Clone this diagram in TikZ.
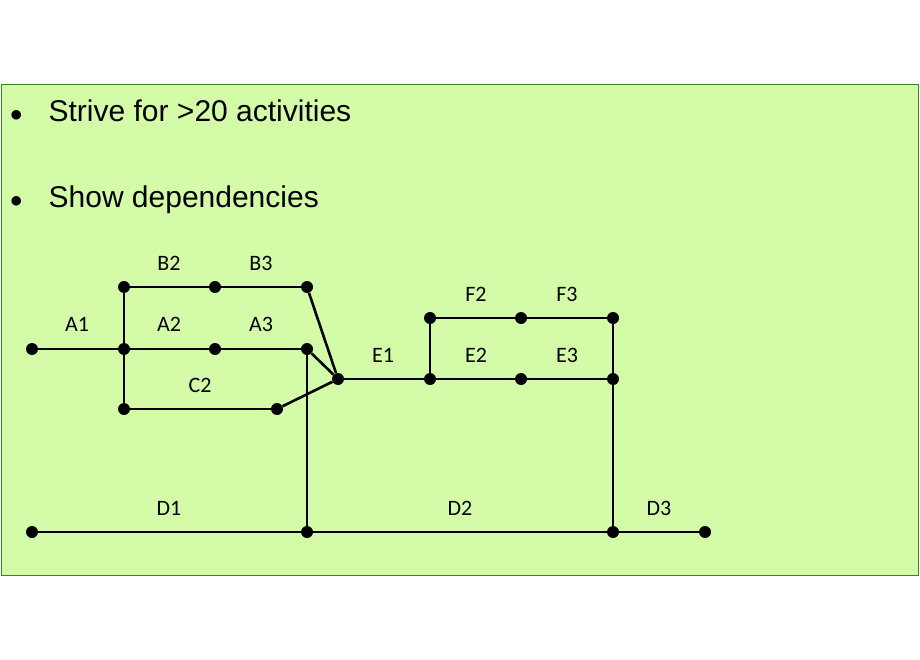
\documentclass[tikz,border=0pt]{standalone}
\usepackage{fontspec}
\setmainfont{Liberation Sans}
\newfontfamily\lblfont{Carlito}
\begin{document}
\begin{tikzpicture}[x=1pt,y=-1pt,
  dot/.style={circle,fill=black,inner sep=0pt,minimum size=12pt},
  lbl/.style={font=\lblfont\fontsize{22}{24}\selectfont},
  ln/.style={line width=2.6pt},
  bul/.style={font=\fontsize{30}{34}\selectfont,anchor=west,inner sep=0pt}]
\useasboundingbox (0,0) rectangle (920,660);
\draw[fill={rgb,255:red,212;green,252;blue,168},draw={rgb,255:red,60;green,130;blue,40},line width=1pt] (1,85) rectangle (918,575);
\node[bul] (t1) at (10,111) {$\bullet$\hspace{26pt}Strive for >20 activities};
\node[bul] (t2) at (10,200) {$\bullet$\hspace{26pt}Show dependencies};
\foreach \n/\x/\y in {a0/32/349,a1/124/349,a2/215/349,a3/307/349,b1/124/287,b2/215/287,b3/307/287,c1/124/409,c2/277/409,e0/338/379,e1/430/379,e2/521/379,e3/613/379,f1/430/318,f2/521/318,f3/613/318,d0/32/532,d1/307/532,d2/613/532,d3/705/532}
  \node[dot] (\n) at (\x,\y) {};
\draw[ln] (a0)--(a1)--(a2)--(a3);
\draw[ln] (b1)--(b2)--(b3);
\draw[ln] (b1)--(a1)--(c1)--(c2);
\draw[ln] (b3)--(e0); \draw[ln] (a3)--(e0); \draw[ln] (c2)--(e0);
\draw[ln] (a3)--(d1);
\draw[ln] (e0)--(e1)--(e2)--(e3);
\draw[ln] (e1)--(f1)--(f2)--(f3)--(e3)--(d2);
\draw[ln] (d0)--(d1)--(d2)--(d3);
\foreach \t/\x/\y in {A1/77/324,A2/169/324,A3/261/324,B2/169/263,B3/261/263,C2/200/385,E1/383/355,E2/476/355,E3/567/355,F2/476/294,F3/567/294,D1/169/508,D2/460/508,D3/659/508}
  \node[lbl] (l\t) at (\x,\y) {\t};
\end{tikzpicture}
\end{document}
